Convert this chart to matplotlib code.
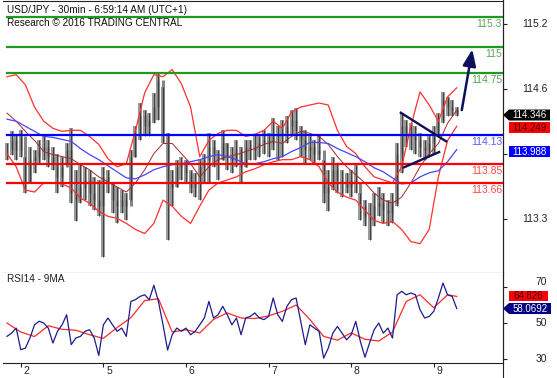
import matplotlib
matplotlib.use('Agg')
import matplotlib.pyplot as plt
from matplotlib.patches import Polygon
from matplotlib.transforms import IdentityTransform

plt.rcParams['font.family'] = ['Liberation Sans', 'DejaVu Sans']

W, H = 557, 378

# x axis: bar index, days start at these bars
day_ticks = [3, 21, 39, 57, 75, 93]
day_labels = ['2', '5', '6', '7', '8', '9']

# price bars (USD/JPY)
high = [114.05, 114.17, 114.13, 114.18, 113.92, 114.02, 113.99, 114.08, 114.12, 114.08,
        114.02, 113.95, 113.92, 114.05, 114.20, 113.79, 113.85, 113.82, 113.79, 113.72,
        113.69, 113.82, 113.79, 113.66, 113.62, 113.59, 113.56, 113.99, 114.22, 114.45,
        114.38, 114.35, 114.55, 114.76, 114.61, 114.15, 113.79, 113.89, 113.92, 113.89,
        113.79, 113.76, 113.89, 113.95, 114.15, 114.08, 113.99, 114.18, 114.05, 114.02,
        114.08, 114.02, 114.08, 114.08, 114.13, 114.12, 114.18, 114.15, 114.30, 114.22,
        114.28, 114.32, 114.38, 114.40, 114.22, 114.18, 114.12, 114.08, 114.12, 113.89,
        113.79, 113.92, 113.85, 113.79, 113.76, 113.79, 113.84, 113.56, 113.49, 113.46,
        113.56, 113.62, 113.56, 113.49, 113.56, 114.05, 114.35, 114.28, 114.25, 114.22,
        114.15, 114.08, 114.12, 114.22, 114.35, 114.56, 114.51, 114.48, 114.41]
low = [113.89, 113.94, 113.89, 113.92, 113.56, 113.66, 113.76, 113.85, 113.89, 113.82,
       113.79, 113.56, 113.62, 113.85, 113.46, 113.28, 113.46, 113.49, 113.43, 113.39,
       113.33, 112.93, 113.56, 113.36, 113.26, 113.36, 113.29, 113.49, 113.92, 114.08,
       114.12, 114.12, 114.25, 114.28, 114.05, 113.10, 113.43, 113.62, 113.69, 113.66,
       113.56, 113.52, 113.49, 113.66, 113.66, 113.82, 113.69, 113.89, 113.79, 113.76,
       113.82, 113.66, 113.82, 113.89, 113.89, 113.92, 113.95, 113.92, 113.99, 113.89,
       113.92, 114.05, 114.12, 114.08, 113.92, 113.85, 113.89, 113.85, 113.89, 113.46,
       113.38, 113.59, 113.56, 113.52, 113.56, 113.52, 113.56, 113.29, 113.23, 113.10,
       113.23, 113.33, 113.26, 113.23, 113.26, 113.43, 113.76, 114.02, 113.99, 113.95,
       113.92, 113.89, 113.92, 113.95, 114.12, 114.25, 114.32, 114.32, 114.32]
close = [114.00, 114.08, 113.99, 114.12, 113.66, 113.89, 113.92, 113.99, 114.02, 113.92,
         113.85, 113.72, 113.82, 113.99, 113.56, 113.49, 113.62, 113.69, 113.56, 113.49,
         113.43, 113.72, 113.66, 113.49, 113.43, 113.49, 113.43, 113.92, 114.12, 114.32,
         114.22, 114.28, 114.41, 114.68, 114.15, 113.69, 113.62, 113.82, 113.85, 113.76,
         113.62, 113.66, 113.82, 113.89, 114.02, 113.95, 113.89, 114.05, 113.92, 113.89,
         113.99, 113.82, 114.02, 113.99, 114.02, 114.05, 114.08, 114.05, 114.15, 114.12,
         114.15, 114.22, 114.28, 114.18, 114.08, 113.99, 114.02, 113.95, 113.99, 113.56,
         113.62, 113.79, 113.69, 113.66, 113.62, 113.69, 113.66, 113.43, 113.33, 113.29,
         113.43, 113.46, 113.39, 113.36, 113.46, 113.95, 114.22, 114.15, 114.12, 114.08,
         114.02, 113.99, 114.05, 114.15, 114.28, 114.48, 114.41, 114.38, 114.35]

# bollinger bands + moving average, sampled every 2 bars
band_idx = list(range(0, 99, 2))
upper = [114.71, 114.73, 114.63, 114.41, 114.27, 114.20, 114.17, 114.18, 114.18, 114.12,
         114.04, 113.90, 113.82, 113.85, 114.18, 114.55, 114.73, 114.71, 114.78, 114.64,
         114.41, 113.92, 114.08, 114.15, 114.18, 114.18, 114.12, 114.14, 114.18, 114.27,
         114.20, 114.36, 114.41, 114.43, 114.45, 114.43, 114.18, 114.02, 113.95, 113.82,
         113.72, 113.69, 113.66, 113.82, 114.22, 114.56, 114.43, 114.27, 114.51, 114.60]
middle = [114.35, 114.27, 114.17, 114.08, 113.97, 113.94, 113.92, 113.90, 113.84, 113.79,
          113.72, 113.67, 113.62, 113.57, 113.66, 113.79, 113.95, 114.05, 114.05, 113.95,
          113.85, 113.72, 113.82, 113.89, 113.92, 113.94, 113.97, 114.00, 114.04, 114.07,
          114.05, 114.12, 114.17, 114.15, 114.12, 114.04, 113.92, 113.82, 113.74, 113.66,
          113.56, 113.49, 113.46, 113.52, 113.66, 113.82, 113.95, 114.05, 114.25, 114.38]
lower = [113.95, 113.82, 113.59, 113.57, 113.66, 113.66, 113.65, 113.61, 113.51, 113.46,
         113.38, 113.33, 113.31, 113.26, 113.20, 113.16, 113.26, 113.49, 113.43, 113.33,
         113.26, 113.43, 113.59, 113.66, 113.69, 113.72, 113.77, 113.80, 113.84, 113.87,
         113.89, 113.89, 113.92, 113.89, 113.82, 113.66, 113.57, 113.52, 113.49, 113.39,
         113.29, 113.26, 113.28, 113.20, 113.08, 113.06, 113.20, 113.72, 114.08, 114.22]
ma_blue = [114.29, 114.27, 114.22, 114.17, 114.12, 114.11, 114.09, 114.07, 114.00, 113.94,
           113.89, 113.83, 113.77, 113.71, 113.70, 113.74, 113.79, 113.82, 113.84, 113.85,
           113.87, 113.89, 113.92, 113.94, 113.92, 113.89, 113.85, 113.85, 113.87, 113.90,
           113.92, 113.97, 114.01, 114.06, 114.06, 114.05, 114.00, 113.96, 113.92, 113.87,
           113.81, 113.77, 113.71, 113.65, 113.66, 113.72, 113.76, 113.78, 113.87, 113.99]

# RSI(14) and its 9 period MA
rsi = [42.6, 44.4, 47.2, 35.2, 36.0, 41.7, 49.0, 51.0, 50.0, 47.2,
       38.9, 45.4, 49.0, 54.6, 38.0, 41.7, 42.6, 45.4, 46.3, 41.7,
       32.0, 49.0, 52.8, 49.0, 45.4, 47.2, 42.6, 62.0, 63.0, 64.8,
       65.7, 63.0, 71.0, 62.0, 49.0, 35.0, 43.5, 47.2, 45.4, 47.2,
       43.5, 45.4, 49.0, 52.8, 62.0, 52.8, 54.6, 59.3, 54.6, 49.0,
       52.8, 43.5, 52.8, 53.7, 55.6, 52.8, 51.9, 53.7, 63.9, 54.6,
       50.9, 59.3, 63.0, 63.9, 50.9, 38.0, 49.0, 47.2, 45.4, 30.5,
       36.0, 44.4, 48.1, 44.4, 40.7, 43.5, 50.9, 39.8, 31.0, 38.9,
       46.3, 50.0, 44.4, 47.2, 41.7, 65.7, 67.6, 65.7, 66.7, 65.7,
       57.4, 52.8, 53.7, 56.5, 63.9, 72.2, 65.7, 64.8, 58.07]
rsi_ma_idx = list(range(0, 97, 3)) + [98]
rsi_ma = [50, 45, 42.5, 48.5, 46.5, 46, 43.5, 41.5, 47.5, 53, 62.5, 63.5, 45, 46.3,
          44.5, 52, 55.6, 52.8, 52.5, 54, 56.5, 60, 52, 42.6, 40.5, 44.5, 41, 40, 45,
          62, 65.7, 58.5, 65.7, 64.8]

# drawn levels
green_levels = [115.3, 115.0, 114.75]
green_labels = ['115.3', '115', '114.75']
blue_levels = [114.13]
blue_labels = ['114.13']
red_levels = [113.85, 113.66]
red_labels = ['113.85', '113.66']

# triangle + target arrow (bar index, price)
tri_upper = ([85.6, 95.9], [114.36, 114.065])
tri_lower = ([86.3, 94.4], [113.81, 113.97])
arrow_from = (99.1, 114.38)
arrow_to = (101.4, 114.98)

price_ticks = [115.23, 114.59, 113.95, 113.30]
price_tick_labels = ['115.2', '114.6', '', '113.3']
rsi_ticks = [70, 50, 30]

fig = plt.figure(figsize=(W / 100, H / 100), dpi=100)
ax = fig.add_axes([3 / W, 1 - 273 / H, 500 / W, 272 / H])
ax2 = fig.add_axes([3 / W, 15 / H, 500 / W, 90 / H], sharex=ax)

xs = list(range(len(close)))
# bars: grey range, dark thin wick, slightly darker body
body_lo = [min(close[max(i - 1, 0)], close[i]) for i in xs]
body_hi = [max(close[max(i - 1, 0)], close[i]) for i in xs]
ax.vlines(xs, low, high, color='#9a9a9a', lw=2.9, zorder=2)
ax.vlines(xs, body_lo, body_hi, color='#858585', lw=2.2, zorder=3)
ax.vlines(xs, low, high, color='#1a1a1a', lw=0.5, zorder=3)

ax.plot(band_idx, upper, color='#ff3030', lw=0.9, zorder=4)
ax.plot(band_idx, lower, color='#ff3030', lw=0.9, zorder=4)
ax.plot(band_idx, middle, color='#a52a2a', lw=0.7, zorder=4)
ax.plot(band_idx, ma_blue, color='#4646ff', lw=0.9, zorder=4)

def level(vals, labels, lc, tc):
    for v, s in zip(vals, labels):
        ax.axhline(v, xmin=4 / 500, xmax=1, color=lc, lw=1.6, zorder=5)
        ax.annotate(s, xy=(0.998, v), xycoords=ax.get_yaxis_transform(),
                    xytext=(0, -1.5), textcoords='offset points',
                    ha='right', va='top', fontsize=7.5, color=tc, zorder=6)

level(green_levels, green_labels, '#1f9a1f', '#58a558')
level(blue_levels, blue_labels, '#0000ff', '#5a5aff')
level(red_levels, red_labels, '#ff0000', '#ff4a4a')

navy = '#10105a'
ax.plot(*tri_upper, color=navy, lw=1.7, zorder=7, solid_capstyle='butt')
ax.plot(*tri_lower, color=navy, lw=1.7, zorder=7, solid_capstyle='butt')
ax.annotate('', xy=arrow_to, xytext=arrow_from,
            arrowprops=dict(arrowstyle='-|>,head_length=1.0,head_width=0.4',
                            color=navy, lw=1.8, shrinkA=0, shrinkB=0), zorder=7)

ax.set_xlim(-0.87, 108.08)
ax.set_ylim(112.77, 115.458)
ax2.set_ylim(27.8, 77.8)

ax2.plot(rsi_ma_idx, rsi_ma, color='#ff2a2a', lw=0.9)
ax2.plot(xs, rsi, color='#1c1c8c', lw=0.9)

for a in (ax, ax2):
    a.spines['left'].set_visible(False)
    for s in ('top', 'bottom', 'right'):
        a.spines[s].set_color('#222222')
        a.spines[s].set_linewidth(0.8)
    a.yaxis.tick_right()
    a.tick_params(axis='y', direction='out', length=3, width=0.8,
                  color='#222222', labelright=False)
ax2.spines['top'].set_visible(False)
ax.tick_params(axis='x', bottom=False, labelbottom=False)
ax.set_yticks(price_ticks)
ax2.set_yticks(rsi_ticks)
ax2.set_xticks(day_ticks)
ax2.set_xticklabels([])
ax2.tick_params(axis='x', direction='out', length=3, width=0.8, color='#222222')

# tick labels, right aligned like the original
for v, s in zip(price_ticks, price_tick_labels):
    ax.text(545 / 500, v, s, transform=ax.get_yaxis_transform(),
            ha='right', va='center', fontsize=7.5, color='#222222', clip_on=False)
for v in rsi_ticks:
    ax2.text(544 / 500, v, str(v), transform=ax2.get_yaxis_transform(),
             ha='right', va='bottom' if v == 70 else 'center', fontsize=7.5,
             color='#222222', clip_on=False)
for t, s in zip(day_ticks, day_labels):
    ax2.annotate(s, xy=(t, 0), xycoords=ax2.get_xaxis_transform(),
                 xytext=(2, -2), textcoords='offset points',
                 ha='left', va='top', fontsize=7.5, color='#222222')

# right hand spine runs through the whole figure
fig.add_artist(plt.Line2D([503 / W, 503 / W], [0, 1], color='#222222', lw=0.8,
                          transform=fig.transFigure))

def tag(a, value, text, fc, tc, x0, x1, arrow=False, dy=0, h=11):
    y = a.transData.transform((0, value))[1] - dy
    pts = [(x0, y - h / 2), (x1, y - h / 2), (x1, y + h / 2), (x0, y + h / 2)]
    if arrow:
        pts = [(x0 - 6, y)] + pts
    fig.add_artist(Polygon(pts, closed=True, fc=fc, ec='none',
                           transform=IdentityTransform()))
    fig.text((x0 + x1) / 2 / W, y / H, text, ha='center', va='center',
             fontsize=7, color=tc)

fig.canvas.draw()
tag(ax, 114.346, '114.346', 'black', 'white', 509, 550, arrow=True, dy=1.5)
tag(ax, 114.249, '114.249', '#ff0000', '#3a0000', 509, 550, dy=4.5)
tag(ax, 113.988, '113.988', '#0000ff', 'white', 509, 550, dy=2)
tag(ax2, 64.826, '64.826', '#ff0000', '#3a0000', 509, 548, h=10)
tag(ax2, 58.0692, '58.0692', '#000080', 'white', 509, 551, arrow=True)

fig.text(7 / W, 1 - 10 / H, 'USD/JPY - 30min - 6:59:14 AM (UTC+1)',
         ha='left', va='center', fontsize=7.2, color='#111111')
fig.text(7 / W, 1 - 23 / H, 'Research \u00a9 2016 TRADING CENTRAL',
         ha='left', va='center', fontsize=7.2, color='#111111')
ax2.text(4 / 500, 0.933, 'RSI14 - 9MA', transform=ax2.transAxes,
         ha='left', va='center', fontsize=7.2, color='#222222')

fig.savefig('out.png', dpi=100)
